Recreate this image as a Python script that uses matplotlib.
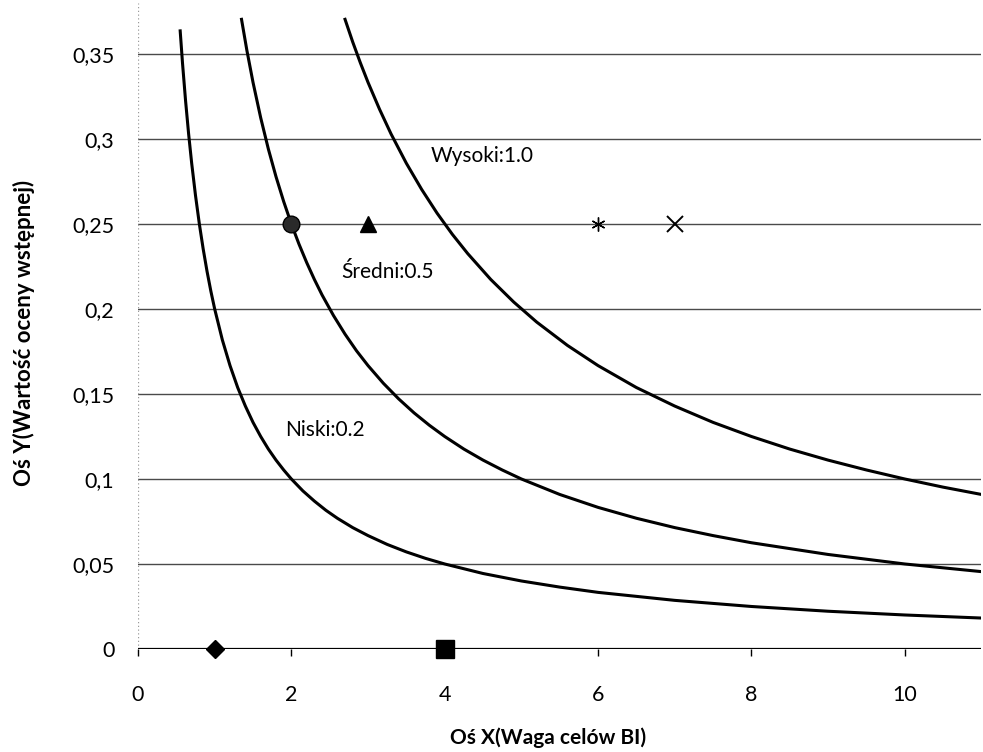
import matplotlib
matplotlib.use("Agg")
import matplotlib.pyplot as plt
from matplotlib.ticker import FixedLocator, FuncFormatter

plt.rcParams['font.family'] = ['Lato', 'DejaVu Sans']

# curves
niski_x = [0.55, 0.58, 0.62, 0.66, 0.7, 0.75, 0.8, 0.85, 0.9, 0.95, 1.0, 1.1, 1.2, 1.3, 1.4, 1.5, 1.6, 1.7, 1.8, 1.9, 2.0, 2.15, 2.3, 2.45, 2.6, 2.8, 3.0, 3.25, 3.5, 3.75, 4.0, 4.5, 5.0, 5.5, 6.0, 7.0, 8.0, 9.0, 10.0, 11.0]
niski_y = [0.3636, 0.3448, 0.3226, 0.3030, 0.2857, 0.2667, 0.25, 0.2353, 0.2222, 0.2105, 0.2, 0.1818, 0.1667, 0.1538, 0.1429, 0.1333, 0.125, 0.1176, 0.1111, 0.1053, 0.1, 0.0930, 0.0870, 0.0816, 0.0769, 0.0714, 0.0667, 0.0615, 0.0571, 0.0533, 0.05, 0.0444, 0.04, 0.0364, 0.0333, 0.0286, 0.025, 0.0222, 0.02, 0.0182]

sredni_x = [1.35, 1.42, 1.5, 1.6, 1.7, 1.8, 1.9, 2.0, 2.1, 2.2, 2.3, 2.4, 2.55, 2.7, 2.85, 3.0, 3.2, 3.4, 3.6, 3.8, 4.0, 4.25, 4.5, 4.75, 5.0, 5.5, 6.0, 6.5, 7.0, 7.5, 8.0, 9.0, 10.0, 11.0]
sredni_y = [0.3704, 0.3521, 0.3333, 0.3125, 0.2941, 0.2778, 0.2632, 0.25, 0.2381, 0.2273, 0.2174, 0.2083, 0.1961, 0.1852, 0.1754, 0.1667, 0.1563, 0.1471, 0.1389, 0.1316, 0.125, 0.1176, 0.1111, 0.1053, 0.1, 0.0909, 0.0833, 0.0769, 0.0714, 0.0667, 0.0625, 0.0556, 0.05, 0.0455]

wysoki_x = [2.7, 2.8, 2.9, 3.0, 3.15, 3.3, 3.5, 3.7, 3.9, 4.1, 4.3, 4.6, 4.9, 5.2, 5.6, 6.0, 6.5, 7.0, 7.5, 8.0, 8.5, 9.0, 9.5, 10.0, 10.5, 11.0]
wysoki_y = [0.3704, 0.3571, 0.3448, 0.3333, 0.3175, 0.3030, 0.2857, 0.2703, 0.2564, 0.2439, 0.2326, 0.2174, 0.2041, 0.1923, 0.1786, 0.1667, 0.1538, 0.1429, 0.1333, 0.125, 0.1176, 0.1111, 0.1053, 0.1, 0.0952, 0.0909]

curve_labels = ["Niski:0.2", "Średni:0.5", "Wysoki:1.0"]
label_pos = [(1.92, 0.129), (2.65, 0.222), (3.82, 0.290)]

# single points
pts_x = [1, 4, 2, 3, 6, 7]
pts_y = [0, 0, 0.25, 0.25, 0.25, 0.25]
pts_marker = ['D', 's', 'o', '^', (6, 2, 0), 'x']
pts_size = [9, 13, 12, 11, 10, 11]

x_ticks = [0, 2, 4, 6, 8, 10]
y_ticks = [0, 0.05, 0.1, 0.15, 0.2, 0.25, 0.3, 0.35]

fig = plt.figure(figsize=(9.83, 7.52), dpi=100)
ax = fig.add_axes([0.1404, 0.137, 0.858, 0.859])

for yt in y_ticks[1:]:
    ax.axhline(yt, color='#4a4a4a', lw=1.0, zorder=1)
ax.axhline(0, color='black', lw=1.6, zorder=2)
ax.axvline(0, color='#9a9a9a', lw=0.9, ls=(0, (1, 2)), zorder=1)

for xs, ys in [(niski_x, niski_y), (sredni_x, sredni_y), (wysoki_x, wysoki_y)]:
    ax.plot(xs, ys, color='black', lw=2.2, zorder=3, solid_joinstyle='round')

for (tx, ty), lab in zip(label_pos, curve_labels):
    ax.text(tx, ty, lab, fontsize=15, va='center', ha='left', color='black')

for x, y, m, s in zip(pts_x, pts_y, pts_marker, pts_size):
    if m == 'x':
        ax.plot(x, y, marker=m, ms=s, color='black', mew=1.4, ls='none', zorder=4, clip_on=False)
    elif m == 'o':
        ax.plot(x, y, marker=m, ms=s, color='#2a2a2a', mec='black', ls='none', zorder=4)
    else:
        ax.plot(x, y, marker=m, ms=s, color='black', mew=1.0, ls='none', zorder=4, clip_on=False)

ax.set_xlim(0, 11)
ax.set_ylim(0, 0.38)
ax.xaxis.set_major_locator(FixedLocator(x_ticks))
ax.yaxis.set_major_locator(FixedLocator(y_ticks))
ax.yaxis.set_major_formatter(FuncFormatter(lambda v, p: ('%g' % v).replace('.', ',')))

for s in ax.spines.values():
    s.set_visible(False)

ax.tick_params(axis='x', length=5, width=1, direction='out', pad=21, labelsize=15.5)
ax.tick_params(axis='y', length=0, pad=17, labelsize=15.5)

ax.set_xlabel("Oś X(Waga celów BI)", fontsize=15, fontweight='bold')
ax.set_ylabel("Oś Y(Wartość oceny wstępnej)", fontsize=16, fontweight='bold')
ax.xaxis.set_label_coords(0.486, -0.121)
ax.yaxis.set_label_coords(-0.122, 0.49)

fig.savefig("out.png", dpi=100)
